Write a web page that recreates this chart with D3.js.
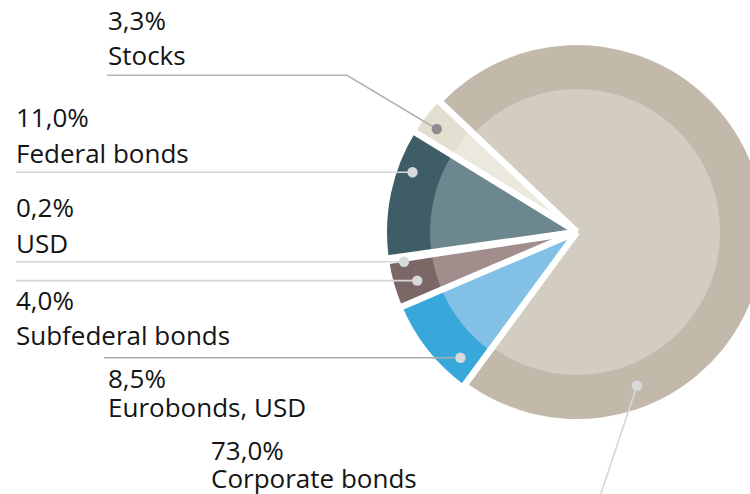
<!DOCTYPE html>
<html>
<head>
<meta charset="utf-8">
<script src="https://cdn.jsdelivr.net/npm/d3@7"></script>
<style>
  html, body { margin: 0; padding: 0; background: #ffffff; }
  svg { display: block; }
  text { font-family: "Open Sans", "Noto Sans", sans-serif; fill: #141414; }
</style>
</head>
<body>
<svg id="chart" width="750" height="494"></svg>
<script>
// ---- data ----
const categories  = ["Stocks", "Federal bonds", "USD", "Subfederal bonds", "Eurobonds, USD", "Corporate bonds"];
const shares      = [3.3, 11.0, 0.2, 4.0, 8.5, 73.0];
const valueLabels = ["3,3%", "11,0%", "0,2%", "4,0%", "8,5%", "73,0%"];

// ---- styles ----
const outerColors = ["#e2dfd0", "#3e5d66", "#b8b8b8", "#7b6766", "#38a8db", "#c2b9ab"];
const innerColors = ["#ebe9de", "#6c878e", "#cccccc", "#a18d8b", "#82c0e5", "#d3ccc1"];
const dotColors   = ["#8b8d8f", "#d8d9db", "#d8d9db", "#d8d9db", "#d8d9db", "#d8d9db"];
const lineColors  = ["#b3b3b3", "#d6d6d6", "#d6d6d6", "#d6d6d6", "#ababab", "#d6d6d6"];

// ---- layout (label placement) ----
const layout = [
  { x: 108, y1: 30,    y2: 65,    lineY: 75.3,  lineX0: 107, elbowX: 347, dotR: 174, dotA: 306.3 },
  { x: 16,  y1: 126.7, y2: 163.3, lineY: 172.3, lineX0: 16,  dotR: 175 },
  { x: 16,  y1: 216.7, y2: 253.3, lineY: 261.7, lineX0: 16,  dotR: 175.5 },
  { x: 16,  y1: 310,   y2: 345,   lineY: 280.6, lineX0: 16,  dotR: 167 },
  { x: 108, y1: 388.3, y2: 416.7, lineY: 357.8, lineX0: 104, dotR: 171.5 },
  { x: 211, y1: 460,   y2: 488.3, dotR: 165, dotA: 158.7, tail: 120 }
];

const W = 750, H = 494;
const cx = 577, cy = 232;
const gap = 6.5;
const deg = Math.PI / 180;
const a0 = 313.5 * deg;
const radii = i => i === 5 ? { o: 187, in: 143 } : { o: 190, in: 147 };

const svg = d3.select("#chart");
const g = svg.append("g").attr("transform", `translate(${cx},${cy})`);

const pie = d3.pie().sort(null).value(d => d).startAngle(a0).endAngle(a0 - 2 * Math.PI);
const arcs = pie(shares);

const arcGen = d3.arc().innerRadius(0);

g.selectAll("path.outer").data(arcs).join("path")
  .attr("class", "outer")
  .attr("d", (d, i) => arcGen.outerRadius(radii(i).o)(d))
  .attr("fill", (d, i) => outerColors[i]);
g.selectAll("path.inner").data(arcs).join("path")
  .attr("class", "inner")
  .attr("d", (d, i) => arcGen.outerRadius(radii(i).in)(d))
  .attr("fill", (d, i) => innerColors[i]);

// white separating bands along every slice boundary
const polar = (a, r) => [Math.sin(a) * r, -Math.cos(a) * r];
g.selectAll("line.sep").data(arcs).join("line")
  .attr("class", "sep")
  .attr("x1", 0).attr("y1", 0)
  .attr("x2", d => polar(d.startAngle, 205)[0])
  .attr("y2", d => polar(d.startAngle, 205)[1])
  .attr("stroke", "#ffffff").attr("stroke-width", gap).attr("stroke-linecap", "butt");

// leader lines, dots, labels
const lab = svg.append("g");
arcs.forEach((d, i) => {
  const L = layout[i];
  let dot;
  if (L.dotA !== undefined) {
    const p = polar(L.dotA * deg, L.dotR);
    dot = [cx + p[0], cy + p[1]];
  } else {
    const dy = L.lineY - cy;
    dot = [cx - Math.sqrt(L.dotR * L.dotR - dy * dy), L.lineY];
  }
  let pts;
  if (L.tail) {
    const dir = [-36, 108], len = Math.hypot(dir[0], dir[1]);
    pts = [dot, [dot[0] + dir[0] / len * L.tail, dot[1] + dir[1] / len * L.tail]];
  } else if (L.elbowX) {
    pts = [[L.lineX0, L.lineY], [L.elbowX, L.lineY], dot];
  } else {
    pts = [[L.lineX0, L.lineY], dot];
  }
  lab.append("path")
    .attr("d", d3.line()(pts))
    .attr("fill", "none").attr("stroke", lineColors[i]).attr("stroke-width", 1.6);
  lab.append("circle")
    .attr("cx", dot[0]).attr("cy", dot[1]).attr("r", 5.2)
    .attr("fill", dotColors[i]);
  const t = lab.append("text").attr("font-size", 26);
  t.append("tspan").attr("x", L.x).attr("y", L.y1).text(valueLabels[i]);
  t.append("tspan").attr("x", L.x).attr("y", L.y2).text(categories[i]);
});
</script>
</body>
</html>
